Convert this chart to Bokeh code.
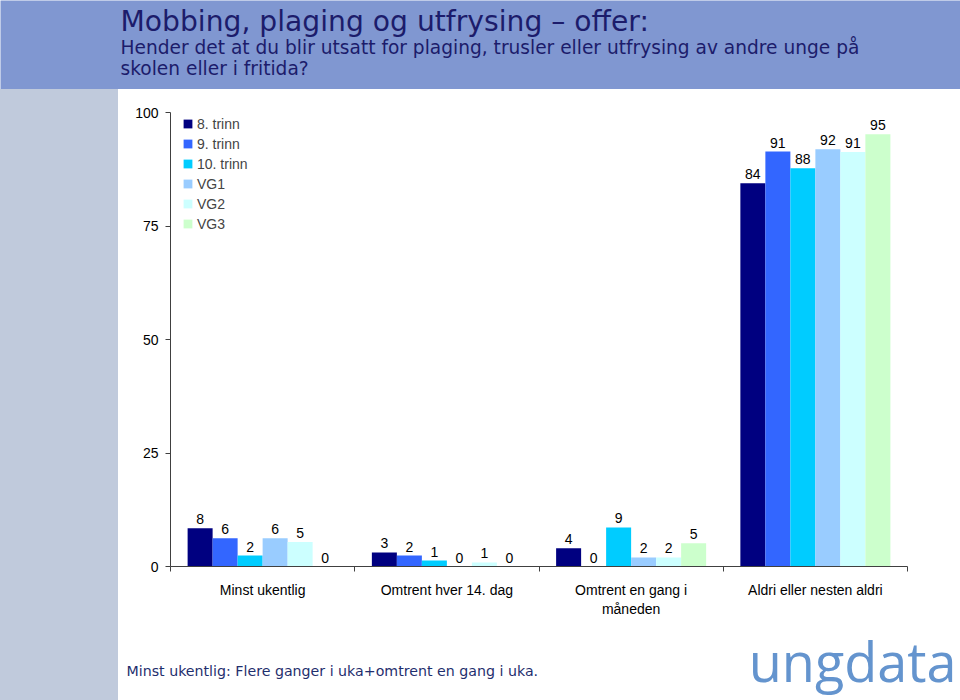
from bokeh.plotting import figure
from bokeh.models import Label, Legend, LegendItem, FixedTicker, Range1d, Spacer
from bokeh.layouts import column, row
from bokeh.core.properties import value
from bokeh.embed import file_html
from bokeh.resources import INLINE

# ---- data ----
categories = ["Minst ukentlig", "Omtrent hver 14. dag", "Omtrent en gang i\nmåneden", "Aldri eller nesten aldri"]
series_names = ["8. trinn", "9. trinn", "10. trinn", "VG1", "VG2", "VG3"]
trinn8 = [8.4, 3.1, 4.0, 84.4]
trinn9 = [6.2, 2.4, 0.0, 91.4]
trinn10 = [2.4, 1.3, 8.6, 87.7]
vg1 = [6.2, 0.0, 2.0, 91.9]
vg2 = [5.4, 0.9, 2.0, 91.3]
vg3 = [0.0, 0.0, 5.1, 95.2]
y_ticks = [0, 25, 50, 75, 100]

series_values = [trinn8, trinn9, trinn10, vg1, vg2, vg3]
colors = ["#000080", "#3366FF", "#00CCFF", "#99CCFF", "#CCFFFF", "#CCFFCC"]

FONT = "Liberation Sans"
HEAD = "DejaVu Sans"
BANNER = "#8097D1"
SIDE = "#C0CADC"

W, H = 960, 700
BANNER_H = 89
SIDE_W = 118
MAIN_H = 541
FOOT_H = H - BANNER_H - MAIN_H
MW = W - SIDE_W


def deco(width, height, color):
    f = figure(width=width, height=height, output_backend="svg", toolbar_location=None,
               x_range=Range1d(0, width), y_range=Range1d(0, height),
               x_axis_location=None, y_axis_location=None,
               min_border=0, min_border_left=0, min_border_right=0,
               min_border_top=0, min_border_bottom=0)
    f.outline_line_color = None
    f.xgrid.visible = False
    f.ygrid.visible = False
    f.background_fill_color = color
    f.border_fill_color = color
    return f


# ---- banner ----
top = deco(W, BANNER_H, BANNER)
for x, y, t, fs in [
    (120, 68, "Mobbing, plaging og utfrysing \u2013 offer:", "28.2px"),
    (120, 42, "Hender det at du blir utsatt for plaging, trusler eller utfrysing av andre unge på", "18.6px"),
    (120, 21, "skolen eller i fritida?", "18.6px"),
]:
    top.add_layout(Label(x=x, y=y, text=t, text_font=HEAD, text_font_size=fs,
                         text_color="#1C1C6B", text_baseline="alphabetic"))

# ---- side bars ----
side1 = Spacer(width=SIDE_W, height=MAIN_H, styles={"background-color": SIDE})
side2 = Spacer(width=SIDE_W, height=FOOT_H, styles={"background-color": SIDE})

# ---- main chart ----
p = figure(width=MW, height=MAIN_H, output_backend="svg", toolbar_location=None,
           x_range=Range1d(-0.5, 3.5), y_range=Range1d(0, 100),
           min_border_left=52, min_border_right=53, min_border_top=23, min_border_bottom=64)
p.outline_line_color = None
p.xgrid.visible = False
p.ygrid.visible = False

bw = 0.1357
n = len(series_names)
renderers = []
for j, (name, vals, col) in enumerate(zip(series_names, series_values, colors)):
    xs = [i + (j - (n - 1) / 2) * bw for i in range(len(categories))]
    r = p.vbar(x=xs, top=vals, bottom=0, width=bw, fill_color=col, line_color=None)
    renderers.append(r)
    p.text(x=xs, y=vals, text=["%d" % round(v) for v in vals], text_align="center",
           text_baseline="bottom", y_offset=-4, text_font=value(FONT), text_font_size="14px",
           text_color="#000000")

legend = Legend(items=[LegendItem(label=nm, renderers=[r]) for nm, r in zip(series_names, renderers)],
                location=(12, 333), glyph_width=11, glyph_height=11, label_height=19, spacing=1,
                padding=0, margin=0, border_line_color=None, background_fill_alpha=0,
                label_text_font=FONT, label_text_font_size="14px", label_standoff=4)
p.add_layout(legend)

p.yaxis.ticker = FixedTicker(ticks=y_ticks, minor_ticks=[])
p.yaxis.major_tick_out = 5
p.yaxis.major_tick_in = 0
p.yaxis.minor_tick_out = 0
p.yaxis.major_label_standoff = 7
p.yaxis.major_label_text_font = FONT
p.yaxis.major_label_text_font_size = "14px"
p.yaxis.major_label_text_color = "#000000"
p.yaxis.axis_line_color = "#404040"
p.yaxis.major_tick_line_color = "#404040"

p.xaxis.ticker = FixedTicker(ticks=list(range(len(categories))), minor_ticks=[-0.5, 0.5, 1.5, 2.5, 3.5])
p.xaxis.major_label_overrides = {i: c for i, c in enumerate(categories)}
p.xaxis.major_tick_out = 0
p.xaxis.major_tick_in = 0
p.xaxis.minor_tick_out = 5
p.xaxis.minor_tick_in = 0
p.xaxis.major_label_standoff = 10
p.xaxis.major_label_text_font = FONT
p.xaxis.major_label_text_font_size = "14px"
p.xaxis.major_label_text_color = "#000000"
p.xaxis.axis_line_color = "#404040"
p.xaxis.minor_tick_line_color = "#404040"

# ---- footer ----
foot = deco(MW, FOOT_H, "#FFFFFF")
foot.add_layout(Label(x=8, y=30, text="Minst ukentlig: Flere ganger i uka+omtrent en gang i uka.",
                      text_font=HEAD, text_font_size="14.2px", text_color="#1F2F6E",
                      text_baseline="alphabetic"))
foot.add_layout(Label(x=MW - 4, y=40, text="ungdata", text_align="right", text_baseline="alphabetic",
                      text_font="Open Sans", text_font_size="54px", text_color="#6494CE"))

layout = column(top, row(side1, p, spacing=0), row(side2, foot, spacing=0), spacing=0)
open("out.html", "w").write(file_html(layout, INLINE))
